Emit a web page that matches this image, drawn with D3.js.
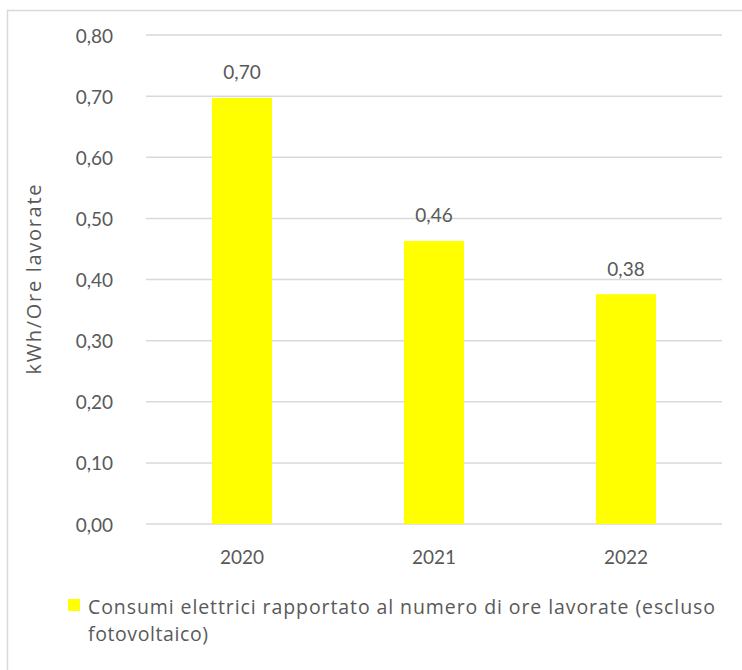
<!DOCTYPE html>
<html>
<head>
<meta charset="utf-8">
<script src="https://cdn.jsdelivr.net/npm/d3@7"></script>
<style>
  body { margin: 0; background: #fff; }
  svg text { font-family: Lato, "Open Sans", sans-serif; fill: #595959; }
</style>
</head>
<body>
<svg id="chart" width="742" height="670"></svg>
<script>
// data
var years = ["2020", "2021", "2022"];
var values = [0.697, 0.463, 0.376];
var yTicks = [0, 0.1, 0.2, 0.3, 0.4, 0.5, 0.6, 0.7, 0.8];
var yTitle = "kWh/Ore lavorate";
var legendLines = ["Consumi elettrici rapportato al numero di ore lavorate (escluso", "fotovoltaico)"];

var svg = d3.select("#chart");

// outer chart border (only left/top visible in the crop)
svg.append("rect")
    .attr("x", 7.5).attr("y", 10.5)
    .attr("width", 760).attr("height", 700)
    .attr("fill", "none")
    .attr("stroke", "#d9d9d9")
    .attr("stroke-width", 1.5);

var plotLeft = 146, plotRight = 722, plotTop = 35, plotBottom = 524;

var x = d3.scaleBand().domain(years).range([plotLeft, plotRight]);
var y = d3.scaleLinear().domain([0, 0.8]).range([plotBottom, plotTop]);
var fmt = function (v) { return v.toFixed(2).replace(".", ","); };

// gridlines
svg.append("g").selectAll("line")
    .data(yTicks)
    .enter()
    .append("line")
    .attr("x1", plotLeft).attr("x2", plotRight)
    .attr("y1", function (d) { return y(d); })
    .attr("y2", function (d) { return y(d); })
    .attr("stroke", "#d9d9d9")
    .attr("stroke-width", 1.5);

// y tick labels
svg.append("g").selectAll("text")
    .data(yTicks)
    .enter()
    .append("text")
    .attr("x", 113)
    .attr("y", function (d) { return y(d); })
    .attr("text-anchor", "end")
    .attr("dominant-baseline", "central")
    .style("font-size", "19px")
    .text(fmt);

// bars
var barw = x.bandwidth() * 0.313;
svg.append("g").selectAll("rect")
    .data(values)
    .enter()
    .append("rect")
    .attr("x", function (d, i) { return x(years[i]) + x.bandwidth() / 2 - barw / 2; })
    .attr("y", function (d) { return y(d); })
    .attr("width", barw)
    .attr("height", function (d) { return plotBottom - y(d); })
    .attr("fill", "#ffff00");

// value labels
svg.append("g").selectAll("text")
    .data(values)
    .enter()
    .append("text")
    .attr("x", function (d, i) { return x(years[i]) + x.bandwidth() / 2; })
    .attr("y", function (d) { return y(d) - 26; })
    .attr("text-anchor", "middle")
    .attr("dominant-baseline", "central")
    .style("font-size", "19px")
    .text(fmt);

// x labels
svg.append("g").selectAll("text")
    .data(years)
    .enter()
    .append("text")
    .attr("x", function (d) { return x(d) + x.bandwidth() / 2; })
    .attr("y", 556)
    .attr("text-anchor", "middle")
    .attr("dominant-baseline", "central")
    .style("font-size", "19px")
    .text(function (d) { return d; });

// y axis title
svg.append("text")
    .attr("transform", "translate(33," + ((plotTop + plotBottom) / 2) + ") rotate(-90)")
    .attr("text-anchor", "middle")
    .attr("dominant-baseline", "central")
    .style("font-family", "'Open Sans', sans-serif")
    .style("font-size", "20px")
    .attr("textLength", 190)
    .attr("lengthAdjust", "spacing")
    .text(yTitle);

// legend
svg.append("rect")
    .attr("x", 68).attr("y", 599)
    .attr("width", 12).attr("height", 12)
    .attr("fill", "#ffff00");

svg.append("g").selectAll("text")
    .data(legendLines)
    .enter()
    .append("text")
    .attr("x", 88)
    .attr("y", function (d, i) { return 606 + i * 27; })
    .attr("dominant-baseline", "central")
    .style("font-family", "'Open Sans', sans-serif")
    .style("font-size", "19.5px")
    .attr("textLength", function (d, i) { return i === 0 ? 627 : 120; })
    .attr("lengthAdjust", "spacing")
    .text(function (d) { return d; });
</script>
</body>
</html>
